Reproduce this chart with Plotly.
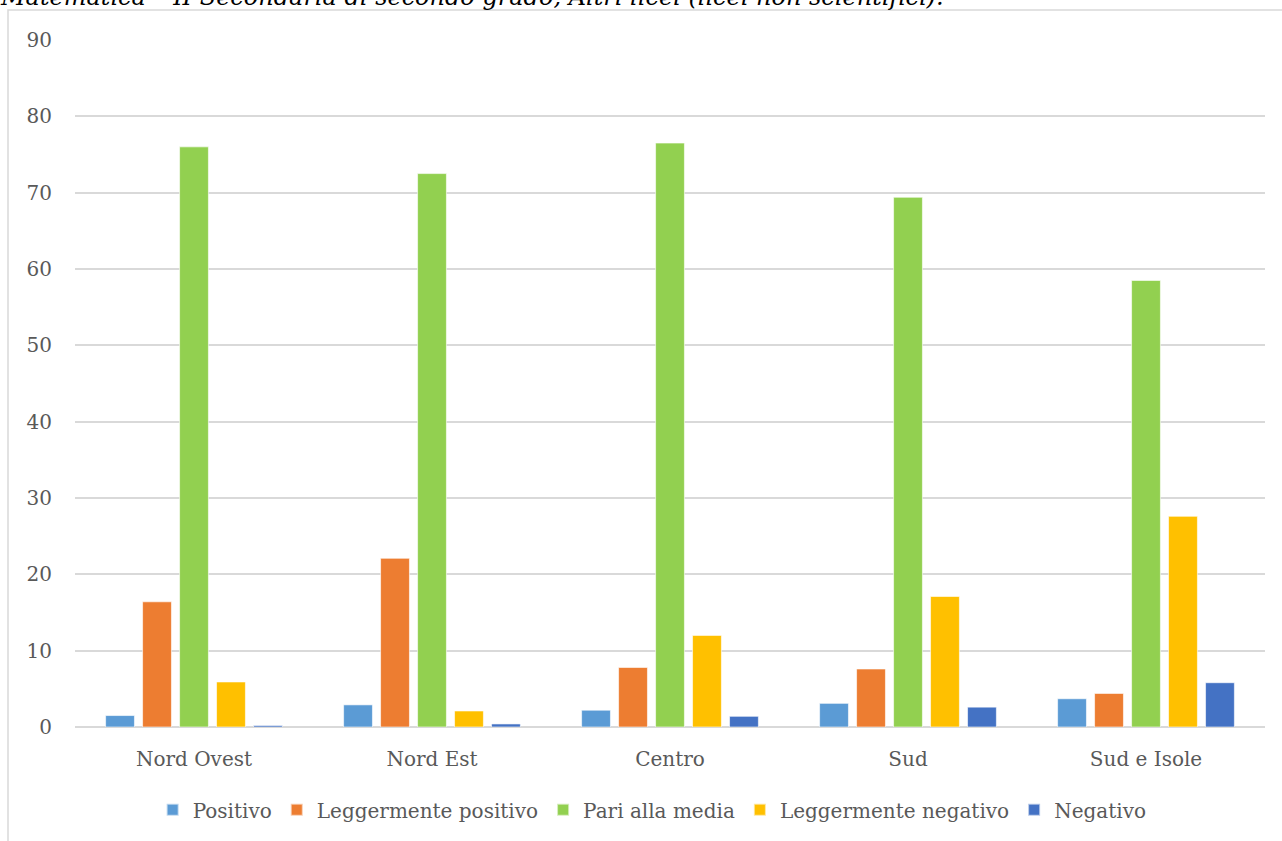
import plotly.graph_objects as go

# Regional distribution of results (percentages)
aree = ["Nord Ovest", "Nord Est", "Centro", "Sud", "Sud e Isole"]
positivo = [1.5, 2.9, 2.2, 3.1, 3.7]
legg_positivo = [16.4, 22.1, 7.8, 7.6, 4.4]
pari_media = [76.0, 72.5, 76.5, 69.4, 58.5]
legg_negativo = [5.9, 2.1, 12.0, 17.1, 27.6]
negativo = [0.2, 0.4, 1.4, 2.6, 5.8]

serie = [
    ("Positivo", positivo, "#5B9BD5"),
    ("Leggermente positivo", legg_positivo, "#ED7D31"),
    ("Pari alla media", pari_media, "#92D050"),
    ("Leggermente negativo", legg_negativo, "#FFC000"),
    ("Negativo", negativo, "#4472C4"),
]

font_fam = "DejaVu Serif"

fig = go.Figure()
for nome, valori, colore in serie:
    fig.add_trace(go.Bar(
        x=aree, y=valori, name=nome,
        marker=dict(color=colore, line=dict(color="rgba(255,255,255,0.6)", width=1)),
    ))

W, H = 1282, 841
L, R, T, B = 75, 17, 40, 112
pw, ph = W - L - R, H - T - B

def px_x(x):
    return (x - L) / pw

def px_y(y):
    return (H - B - y) / ph

fig.update_layout(
    width=W, height=H,
    margin=dict(l=L, r=R, t=T, b=B),
    paper_bgcolor="white", plot_bgcolor="white",
    barmode="group", bargap=0.223, bargroupgap=0.22,
    font=dict(family=font_fam, color="#595959", size=20),
    xaxis=dict(showgrid=False, showline=False, ticks="",
               ticklabelstandoff=18,
               tickfont=dict(size=20, color="#595959")),
    yaxis=dict(range=[0, 90], dtick=10, showgrid=True, gridcolor="#D9D9D9",
               gridwidth=1.5, zeroline=True, zerolinecolor="#D9D9D9",
               zerolinewidth=1.5, showline=False, ticks="",
               ticklabelstandoff=22,
               tickfont=dict(size=20, color="#595959")),
    legend=dict(orientation="h", x=0.485, xanchor="center", y=px_y(812),
                yanchor="middle", font=dict(size=20, color="#595959"),
                itemsizing="constant", itemwidth=30, traceorder="normal"),
    shapes=[dict(type="rect", xref="paper", yref="paper",
                 x0=px_x(8), x1=px_x(1295), y0=px_y(850), y1=px_y(10),
                 line=dict(color="#D9D9D9", width=1.5), fillcolor="rgba(0,0,0,0)",
                 layer="below")],
    annotations=[dict(
        text="<i>Matematica – II Secondaria di secondo grado, Altri licei (licei non scientifici).</i>",
        xref="paper", yref="paper", x=px_x(-2), y=px_y(-3), xanchor="left",
        yanchor="middle", showarrow=False,
        font=dict(family=font_fam, size=24, color="#000000"))],
)

fig.write_html("out.html")
